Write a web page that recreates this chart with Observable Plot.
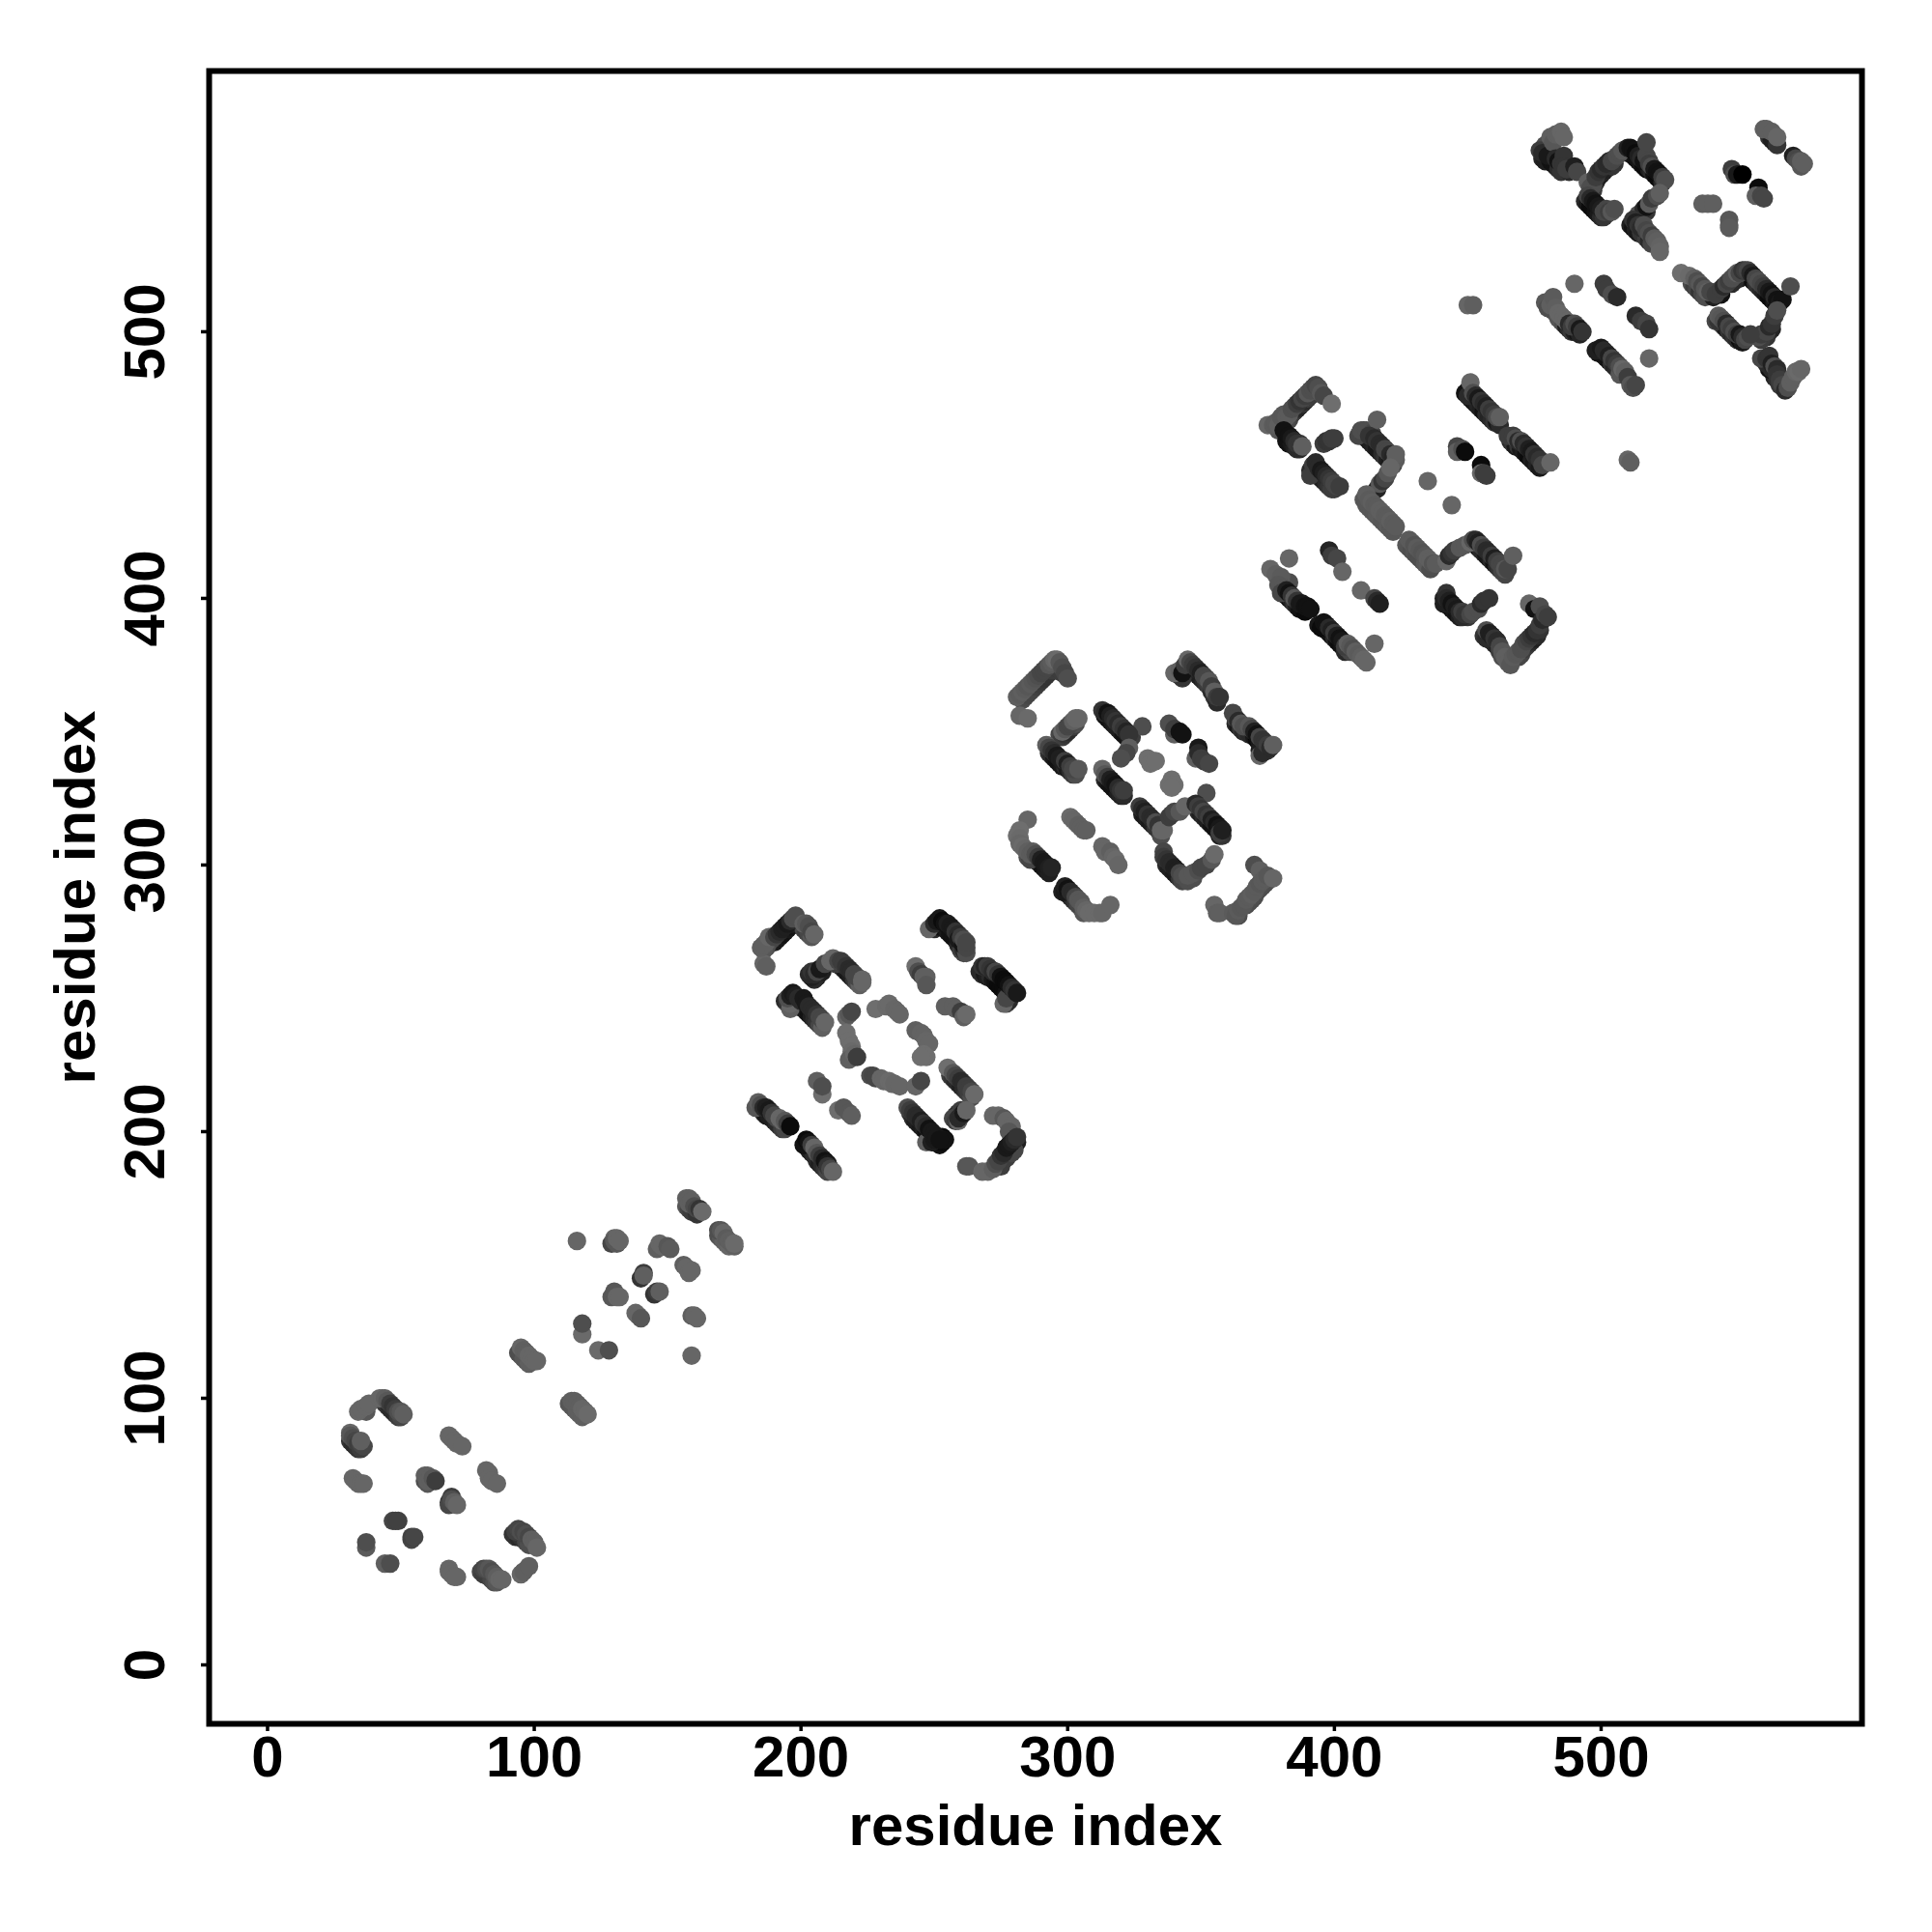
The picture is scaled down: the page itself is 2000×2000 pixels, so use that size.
<!DOCTYPE html>
<html>
<head>
<meta charset="utf-8">
<script src="https://cdn.jsdelivr.net/npm/d3@7"></script>
<script src="https://cdn.jsdelivr.net/npm/@observablehq/plot@0.6"></script>
<style>html,body{margin:0;padding:0;background:#fff}</style>
</head>
<body>
<div id="chart"></div>
<script>
// Each contact: [residue i, residue j, shade] with shade 0 (black) .. 110 (lightest gray)
const under1 = [[36,96,90],[37,95,80],[44,98,50],[45,97,40],[46,96,30],[47,95,30],[48,94,30],[49,93,50],[50,93,60],[31,84,40],[32,83,30],[33,82,30],[34,81,40],[35,81,50],[59,69,70],[60,68,80],[68,61,40],[68,60,60],[92,49,40],[93,48,40],[94,48,30],[95,48,40],[96,47,40],[97,46,60],[98,45,70],[80,35,60],[81,34,50],[82,34,50],[83,33,50],[84,32,60],[85,31,70],[86,31,80]];
const under2 = [[94,117,70],[95,116,70],[96,115,80],[97,114,80],[98,113,90],[113,98,80],[114,97,80],[115,96,80],[116,95,90],[117,94,90],[118,93,90],[157,172,80],[158,171,60],[159,170,50],[161,169,40],[169,161,70],[170,160,80],[171,159,90],[172,158,90],[173,157,100],[129,158,60],[131,158,80],[146,156,90],[140,145,40],[145,139,40],[129,138,80]];
const under3 = [[190,271,20],[191,272,15],[192,273,15],[193,274,10],[194,275,10],[195,276,15],[196,277,10],[197,278,20],[189,272,50],[188,271,60],[187,269,70],[186,268,80],[201,276,60],[202,275,50],[203,274,60],[204,273,80],
[206,258,20],[205,257,30],[204,258,20],[203,259,30],[208,260,20],[215,262,30],[216,261,20],[217,260,15],[218,259,15],[219,258,20],[220,257,40],[221,256,60],[222,255,90],[213,263,50],
[197,249,10],[198,248,10],[199,247,10],[200,247,20],[201,246,15],[202,245,15],[203,244,10],[204,243,20],[205,242,30],[206,241,40],[207,240,60],[208,239,90],[194,249,30],[195,248,40],[196,246,90],
[186,207,30],[187,206,15],[188,206,20],[189,205,20],[190,204,20],[191,203,30],[192,202,30],[193,201,50],[194,201,60],[183,209,80],[203,193,20],[204,192,20],[205,191,30],[206,189,30],[207,188,20],[208,187,30],[209,186,40],[210,185,60],[201,195,10],
[250,276,30],[251,277,10],[252,278,10],[253,277,5],[254,276,10],[255,275,15],[256,274,10],[257,273,10],[258,272,10],[259,270,30],[260,268,50],[261,267,60],[261,268,30],[262,267,70],
[267,260,30],[268,259,30],[269,259,15],[270,258,20],[271,258,30],[272,257,15],[273,256,10],[274,255,5],[275,254,5],[276,253,5],[277,252,10],[278,252,20],[279,251,25],[277,248,60],[278,249,30],
[241,207,40],[242,205,30],[243,204,20],[244,203,20],[245,202,15],[246,201,20],[247,200,10],[248,199,10],[249,198,10],[250,196,10],[248,197,20],[252,195,10],[253,196,5],[253,198,5],[254,197,10],
[256,221,50],[257,220,40],[258,219,30],[259,218,30],[260,217,20],[261,216,30],[262,215,40],[263,214,50],[264,213,70],[275,189,30],[276,190,20],[277,192,15],[278,193,10],[279,194,10],[280,195,15],[281,196,20],[274,187,70],[275,187,50],[277,190,50],[279,192,60],[280,193,60],[258,206,20],[259,207,30],[260,208,50],[257,205,60]];
const under4 = [[283,362,70],[284,363,65],[285,364,60],[286,365,60],[287,366,60],[288,367,55],[289,368,50],[290,369,45],[291,370,40],[292,371,40],[293,372,40],[294,373,50],[295,375,60],[296,374,40],[297,373,50],[298,372,50],
[293,342,40],[294,341,30],[295,340,15],[296,339,10],[297,338,10],[298,337,15],[299,337,30],[300,336,15],[301,335,30],[302,334,50],[303,334,70],[297,349,60],[298,348,50],[299,349,40],[300,350,30],[301,351,30],[302,352,50],[303,353,70],
[314,356,15],[315,355,10],[316,354,10],[317,353,15],[318,352,20],[319,351,20],[320,350,20],[321,349,10],[322,348,10],[323,347,15],[324,348,50],[314,332,30],[315,331,15],[316,330,10],[317,329,10],[318,328,10],[319,327,20],[320,326,25],[321,326,30],
[345,375,40],[346,374,30],[347,373,20],[348,372,20],[349,371,20],[350,370,20],[351,369,30],[352,368,40],[353,367,50],[354,365,30],[355,363,40],[356,361,30],[342,371,20],[343,370,40],
[363,353,30],[364,352,15],[365,351,40],[366,350,30],[367,350,40],[368,349,30],[369,349,30],[370,348,15],[371,347,5],[372,346,15],[373,345,20],[374,344,25],[375,343,40],[372,343,20],
[328,319,20],[329,318,15],[330,317,20],[331,316,15],[332,315,20],[333,314,40],[334,313,40],[335,311,70],[349,320,30],[350,319,20],[351,318,30],[352,317,20],[353,316,20],[354,315,10],[355,314,10],[356,313,10],[357,311,20],[358,311,40],
[288,302,40],[289,301,20],[290,300,10],[291,299,10],[292,298,15],[293,297,20],[285,303,70],[286,302,60],[287,303,60],[300,289,10],[301,288,20],[302,287,30],[303,286,40],[304,285,60],[305,284,60],[306,282,80],[298,290,20],[299,290,15],
[337,300,30],[338,299,20],[339,298,20],[340,297,15],[341,296,15],[342,295,40],[343,294,60],[345,294,70],[347,295,70],[367,285,70],[368,286,70],[369,287,70],[370,288,70],[371,290,70],[372,291,70],[373,292,70],[374,293,70],[375,294,70],[364,281,70]];
const under5 = [[383,467,60],[384,469,55],[385,470,50],[386,471,30],[387,472,25],[388,473,40],[389,474,30],[390,475,50],[391,476,50],[392,477,50],[381,466,70],[382,466,65],[379,463,80],[382,459,10],[383,458,10],[384,458,15],[385,457,20],[386,456,30],[387,456,30],
[391,448,30],[392,448,20],[393,447,15],[394,446,10],[395,445,10],[396,444,20],[397,443,30],[398,442,40],[399,441,50],[400,441,50],[391,446,50],
[411,461,40],[412,460,30],[413,459,15],[414,458,20],[415,457,25],[416,456,15],[417,455,15],[418,454,30],[419,453,40],[420,452,20],[421,451,15],[422,450,60],[409,461,60],[411,463,50],
[411,437,80],[412,435,80],[413,434,80],[414,433,80],[415,432,80],[416,431,85],[417,430,85],[418,429,80],[419,428,80],[420,427,85],[421,426,80],[422,425,80],[427,420,80],[428,419,75],[429,418,70],[430,417,75],[431,416,70],[432,415,70],[433,414,70],[434,413,80],[435,412,85],[436,411,70],
[453,420,15],[454,419,10],[455,418,30],[456,417,30],[457,416,15],[458,415,15],[459,414,30],[460,413,10],[461,412,30],[462,411,40],[463,410,60],[464,409,60],
[451,475,15],[452,474,10],[453,473,15],[454,472,25],[455,471,20],[456,470,10],[457,469,30],[458,468,25],[459,467,30],[460,466,40],[461,466,15],[462,465,30],[450,478,60],
[466,459,30],[467,458,40],[468,457,15],[469,457,40],[470,456,15],[471,455,20],[472,454,10],[473,453,5],[474,452,20],[475,451,15],[476,450,25],[465,461,50],
[380,406,40],[381,402,30],[382,401,5],[383,400,5],[384,399,20],[385,398,40],[386,397,20],[387,396,10],[388,396,10],[389,395,5],[381,405,60],[383,406,70],
[397,388,5],[398,387,15],[399,386,10],[400,385,30],[401,384,10],[402,383,5],[403,382,10],[404,380,30],[405,381,60],[406,380,60],[394,390,15],[395,389,5],
[443,397,15],[444,396,5],[445,395,15],[446,394,10],[447,393,20],[441,400,25],[441,398,20],[450,393,40],[448,393,30],[458,385,15],[459,384,15],[460,383,30],[461,382,25],[462,380,50],[463,378,70],[456,386,40],[457,385,30],
[469,378,60],[470,379,60],[471,381,50],[472,382,50],[473,383,40],[474,384,30],[475,385,20],[476,386,30],[477,388,40]];
const under6 = [[478,565,25],[479,564,20],[481,564,10],[482,563,10],[483,562,10],[484,561,30],[485,560,40],[488,560,30],[479,570,70],[480,569,60],
[496,552,40],[497,553,50],[498,556,30],[499,558,25],[500,559,20],[501,560,25],[502,561,20],[503,562,20],[504,562,40],[505,563,40],
[511,567,5],[512,566,5],[513,565,5],[514,564,10],[515,563,15],[516,562,5],[517,561,5],[518,561,20],[519,560,30],[520,559,10],[521,558,5],[522,557,5],[523,556,30],[510,567,10],
[494,549,30],[495,548,15],[496,547,5],[497,546,5],[498,545,10],[499,544,15],[500,543,30],[501,543,40],[502,544,40],
[511,540,20],[512,539,10],[513,538,20],[514,537,15],[515,537,40],[516,536,40],[517,535,50],[518,534,30],[519,533,60],[516,545,20],[515,544,10],[517,545,40],
[534,518,70],[535,517,50],[536,516,60],[537,515,40],[538,514,60],[539,513,70],[542,513,20],[544,515,20],[545,514,10],
[551,520,40],[552,520,20],[553,521,15],[554,521,20],[555,521,30],[556,520,15],[557,519,5],[558,518,30],[559,517,40],[560,516,30],[561,515,25],[562,514,15],[563,513,5],[564,512,5],[565,511,15],[566,510,5],[550,519,30],[549,518,30],
[545,503,50],[546,502,40],[547,501,15],[548,500,40],[549,499,30],[550,498,40],[551,497,30],[552,497,5],[553,496,15],[543,504,60],[544,504,40],[563,500,20],[564,501,25],[561,498,30],[562,498,40],[560,497,50],
[565,485,15],[565,483,25],[566,482,35],[567,480,45],[563,486,10],[564,486,30],[562,488,30],
[482,508,60],[483,507,70],[484,505,80],[485,504,80],[486,503,70],[487,502,20],[488,501,30],[489,500,45],[490,500,20],[491,500,10],[492,499,25],[480,511,60],
[501,491,15],[502,490,15],[503,489,10],[504,488,40],[505,487,25],[506,486,30],[507,485,50],[499,492,10],[498,493,20]];

const block1 = [[34,95,100],[35,96,100],[37,97,100],[38,98,100],[42,100,100],[43,100,100],[44,100,90],[45,99,80],[46,98,50],[47,97,40],[48,96,50],[49,95,70],[50,95,80],[51,94,90],
[31,87,100],[31,86,80],[32,85,70],[33,84,60],[34,83,50],[35,83,60],[36,82,60],[35,84,90],
[32,70,100],[33,69,100],[34,68,100],[35,68,100],[36,68,100],[37,44,85],[37,46,70],[47,54,60],[48,54,55],[49,54,55],[54,47,60],[54,48,55],[55,48,60],[44,38,90],[46,38,70],
[68,86,100],[69,85,100],[70,84,100],[71,83,100],[73,82,100],[59,71,90],[60,71,90],[60,69,90],[61,70,90],[62,70,80],[63,69,50],[69,63,50],[69,62,70],[70,61,90],[71,60,100],
[82,73,100],[83,72,100],[83,70,100],[84,69,100],[86,68,100],[68,36,100],[68,35,100],[69,34,100],[70,33,100],[71,33,100],
[81,36,60],[82,36,70],[83,36,80],[84,35,70],[85,34,80],[86,33,90],[87,32,100],[88,32,100],[95,34,100],[96,35,90],[98,37,90],
[93,50,55],[94,51,60],[95,50,70],[96,50,60],[97,49,70],[98,48,60],[99,47,90],[100,46,90],[101,44,100]];

const block2 = [[95,119,100],[96,118,90],[97,117,90],[98,116,100],[99,115,100],[100,114,100],[101,114,100],
[114,99,90],[115,99,90],[116,98,90],[117,97,90],[118,96,100],[119,95,100],[120,94,105],[116,159,100],[130,160,100],[130,159,80],[131,160,100],[132,159,100],
[147,158,100],[148,157,100],[150,157,80],[151,156,85],[156,150,90],[157,149,100],[158,147,100],[159,148,100],[141,147,50],[141,146,90],[146,140,50],[147,140,90],
[130,140,80],[131,138,100],[132,138,100],[138,132,100],[139,131,100],[140,130,80],[159,131,90],[160,131,100],[161,130,100],[159,116,100],
[118,124,105],[118,128,70],[124,118,105],[128,118,70],
[157,175,90],[158,175,90],[158,173,90],[159,174,90],[160,172,70],[161,171,60],[162,171,40],[163,170,105],
[169,163,70],[170,163,80],[171,162,100],[172,160,85],[173,159,90],[174,158,90],[175,157,90],[175,158,105]];

const block3 = [[186,263,100],[187,262,90],[185,269,90],[186,270,90],[187,271,90],[188,273,100],[190,273,60],[191,274,40],[192,275,30],[193,276,20],[194,277,20],[195,278,15],[196,279,30],[197,280,70],[198,281,70],[201,278,90],[202,278,80],[203,277,70],[204,275,60],[205,274,100],
[204,260,40],[205,259,30],[206,260,60],[207,261,15],[209,263,60],[211,264,100],[212,265,100],[214,264,60],[215,264,50],[216,263,50],[217,262,40],[218,261,30],[219,260,30],[220,259,60],[221,258,60],[223,257,100],[223,256,100],
[196,248,100],[195,250,70],[196,251,20],[197,252,15],[198,251,20],[199,250,30],[200,249,30],[201,250,15],[202,248,15],[203,247,30],[204,246,30],[205,245,30],[206,244,40],[207,243,60],[208,242,60],[209,241,100],
[217,243,100],[218,244,80],[219,245,60],[228,246,110],[232,247,105],[233,248,105],[235,246,100],[236,245,100],[237,244,100],
[217,237,110],[218,234,110],[219,232,110],[219,230,105],[218,227,90],[220,229,100],[221,228,50],
[243,238,90],[245,237,95],[246,236,95],[247,234,100],[248,233,100],[246,229,110],[247,228,110],[245,228,110],
[226,221,70],[227,221,60],[228,220,60],[230,220,100],[231,219,100],[233,219,105],[234,218,105],[235,218,100],[237,217,100],[243,217,100],[245,219,60],
[206,219,90],[208,214,110],[208,217,70],[214,208,110],[216,209,80],[218,207,80],[219,206,90],
[184,211,90],[185,210,70],[186,209,30],[187,209,20],[188,208,15],[189,207,40],[190,206,60],[191,205,60],[192,205,100],[193,204,100],[194,204,80],[195,203,50],[196,202,5],
[202,197,5],[203,196,10],[204,195,50],[205,194,100],[206,192,80],[207,191,50],[208,190,30],[209,189,10],[210,188,15],[210,187,40],[211,186,60],[212,185,100],
[248,276,100],[250,278,30],[251,279,15],[252,280,15],[253,279,5],[254,278,10],[255,278,20],[256,277,15],[257,276,15],[258,275,40],[259,274,30],[259,272,15],[260,273,50],[261,270,10],[261,272,70],[262,269,60],[262,271,60],
[276,248,100],[277,250,60],[268,262,40],[269,262,25],[270,262,50],[271,261,40],[272,260,30],[273,260,60],[274,259,40],[275,258,10],[276,257,5],[277,256,5],[278,255,10],[279,254,30],[280,253,40],[281,252,15],
[243,262,110],[244,260,70],[245,259,50],[246,258,90],[247,258,90],[247,255,80],[254,247,90],[257,247,90],[258,246,90],[260,245,50],[261,243,90],[262,244,105],
[258,204,50],[259,204,100],[259,205,30],[260,206,30],[261,207,15],[262,208,100],
[255,224,110],[257,222,80],[258,221,60],[259,220,50],[260,219,30],[261,218,30],[262,217,50],[263,216,50],[264,215,60],[265,214,105],
[247,196,90],[240,209,70],[241,208,50],[242,207,40],[243,206,30],[244,205,30],[245,204,20],[246,203,40],[247,202,30],[248,201,10],[249,200,15],[249,196,20],[250,199,15],[250,197,15],[251,198,15],[252,197,10],
[262,187,80],[263,187,80],[268,185,100],[270,185,100],[272,186,90],[272,206,100],[274,206,100],[276,205,80],[277,204,100],[279,202,100],[278,200,80],[273,188,70],[274,189,60],[275,191,40],[276,192,30],[277,194,15],[278,195,15],[279,196,20],[280,197,30],[281,198,40]];

const block4 = [[281,363,90],[282,364,85],[283,365,90],[284,366,85],[285,367,80],[286,368,85],[287,369,80],[288,370,75],[289,371,70],[290,372,60],[291,373,60],[292,374,60],[293,375,80],[294,376,85],[295,377,100],[296,377,105],[297,376,80],[298,374,70],[299,372,60],[300,370,70],[282,356,100],[285,355,105],
[298,350,100],[299,351,80],[300,352,60],[301,353,60],[302,354,90],[303,355,100],[304,355,100],
[292,345,90],[293,344,60],[294,343,40],[295,342,30],[296,341,15],[297,340,20],[298,339,20],[299,339,50],[300,338,20],[301,337,50],[302,336,60],[304,336,80],
[328,352,70],[313,358,40],[314,357,30],[315,357,10],[316,356,20],[317,355,30],[318,354,40],[319,353,30],[320,352,50],[321,351,40],[322,350,25],[323,349,40],
[323,344,90],[322,342,60],[320,340,70],[313,336,100],[314,334,80],[315,333,50],[316,332,20],[317,331,15],[318,330,10],[319,329,30],[320,328,40],[321,328,50],
[330,340,110],[331,338,110],[333,339,110],[339,332,110],[338,330,110],[340,330,110],[339,329,110],
[338,353,70],[340,349,90],[340,351,50],[342,350,10],[343,349,10],[348,340,90],[349,344,15],[349,342,30],[350,340,50],[351,339,50],[353,338,60],
[340,372,100],[342,373,90],[343,372,10],[344,375,50],[345,377,100],[346,376,60],[347,375,50],[348,374,40],[349,373,30],[350,372,20],[351,371,60],[352,370,60],[353,369,80],[354,367,50],[355,365,90],[356,363,50],[357,363,40],
[372,341,100],[373,342,30],[362,357,60],[363,355,60],[364,354,30],[365,353,80],[366,352,70],[368,352,80],[369,351,60],[370,350,20],[371,349,10],[372,348,60],[373,347,40],[374,346,40],[375,345,50],[376,344,30],[377,345,90],
[352,327,70],[327,322,50],[328,321,30],[329,320,20],[330,319,40],[331,318,30],[332,317,30],[333,316,70],[334,315,40],[335,313,100],[336,313,100],
[338,318,50],[339,319,50],[340,320,60],[342,320,80],[344,322,100],
[348,323,30],[349,322,50],[350,321,40],[351,320,60],[352,319,40],[353,318,50],[354,317,20],[355,316,30],[356,315,10],[357,314,15],[357,312,50],[358,313,20],
[285,317,100],[282,313,110],[281,311,110],[282,310,105],[282,308,100],[283,307,105],[284,306,100],[285,305,90],[286,304,85],[287,305,85],[288,304,70],[289,303,50],[290,302,20],[291,301,15],[292,300,15],[293,299,20],[294,299,25],
[299,292,20],[300,291,10],[301,290,30],[302,289,30],[303,288,60],[304,287,80],[305,286,80],[306,284,90],[307,283,100],[308,282,105],[310,282,105],[312,282,105],[313,282,100],[316,285,100],
[301,318,105],[302,317,100],[303,316,100],[304,315,90],[305,314,90],[306,313,90],[307,313,90],[313,307,100],[314,305,100],[316,305,90],[317,303,100],[318,302,105],[319,300,100],
[336,305,60],[336,303,50],[337,302,40],[338,301,30],[339,300,30],[340,299,20],[341,298,20],[342,297,60],[343,296,70],[345,296,80],[347,297,80],[349,298,70],[350,299,60],[352,300,60],[354,302,80],[355,304,105],
[355,285,100],[356,282,90],[357,282,90],[362,282,85],[363,281,80],[364,283,85],[365,284,80],[366,285,80],[367,287,85],[368,288,85],[369,289,90],[370,290,85],[370,300,70],[371,292,85],[372,293,80],[372,298,90],[373,294,85],[374,295,85],[375,296,80],[377,295,100]];

const block5 = [[375,465,100],[377,465,85],[378,466,85],[379,465,90],[380,468,80],[381,469,80],[382,468,85],[383,469,85],[384,471,70],[385,472,70],[386,473,50],[387,474,40],[388,475,60],[389,476,50],[390,477,80],[391,478,70],[392,479,70],[393,480,60],[394,479,70],[395,477,80],[396,476,60],[399,473,110],
[381,463,10],[383,461,10],[384,460,15],[385,459,30],[386,458,40],[387,458,40],[388,457,90],[396,458,50],[397,459,40],[398,459,40],[399,460,50],[400,460,50],
[392,450,50],[393,451,30],[394,449,30],[395,448,15],[396,447,20],[397,446,30],[398,445,40],[399,444,50],[400,443,60],[401,442,60],[402,442,50],
[410,463,70],[412,463,70],[414,462,60],[416,467,90],[413,461,40],[415,460,30],[416,459,40],[417,458,30],[418,457,30],[419,456,60],[420,455,60],[421,454,30],[422,453,25],[423,452,85],[423,454,90],
[416,441,25],[417,443,80],[418,444,40],[419,445,60],[420,447,80],[421,449,100],
[412,439,90],[413,437,85],[414,436,90],[415,435,85],[416,434,85],[417,433,90],[418,432,90],[419,431,85],[420,430,85],[421,429,90],[422,428,85],[423,427,85],
[428,422,85],[429,421,85],[430,420,75],[431,419,85],[432,418,80],[433,417,75],[434,416,80],[435,415,90],[436,414,90],[437,413,75],[438,413,85],
[442,414,100],[443,416,30],[444,417,40],[445,418,50],[447,419,80],[449,420,80],[451,421,100],
[452,422,70],[453,422,30],[454,421,20],[455,420,70],[456,419,50],[457,418,30],[458,417,30],[459,416,50],[460,415,20],[461,414,50],[462,413,60],[463,412,60],[464,411,80],[465,411,60],[467,416,90],
[435,444,100],[444,435,100],[450,510,100],[452,510,90],[510,452,100],[511,451,90],
[449,477,10],[450,476,30],[451,481,100],[452,477,70],[453,476,30],[454,475,15],[455,474,40],[456,473,30],[457,472,20],[458,471,50],[459,470,40],[460,469,50],[461,468,70],[462,468,90],
[467,461,50],[468,460,70],[469,459,30],[470,459,70],[471,458,30],[472,457,40],[473,456,20],[474,455,15],[475,454,40],[476,453,30],[477,449,15],[477,452,40],[478,450,60],[481,451,100],
[446,457,60],[446,455,90],[448,456,70],[449,455,5],[455,450,5],[455,447,100],[456,447,50],[457,446,50],
[376,411,100],[383,415,100],[378,409,90],[380,408,85],[379,405,80],[381,404,80],[380,402,60],
[382,403,20],[383,402,10],[384,401,40],[385,400,80],[386,399,40],[387,398,15],[388,398,15],[389,397,10],[390,397,10],[391,396,10],
[396,391,10],[397,390,10],[398,389,30],[399,388,20],[400,387,50],[401,386,20],[402,385,10],[403,384,15],[404,382,50],[405,383,90],[406,382,80],[407,381,70],[408,380,90],[409,379,85],[410,378,90],[411,377,100],[412,376,100],[415,383,100],
[398,418,25],[399,416,50],[401,415,60],[403,410,100],[410,403,100],[415,400,60],[416,399,30],[417,398,20],
[442,402,40],[442,400,30],[443,399,20],[444,398,10],[445,397,20],[446,396,15],[447,395,30],[448,395,50],[449,394,40],[451,394,60],[452,395,70],[454,396,70],[455,398,30],[456,399,40],[458,400,40],
[457,388,70],[458,387,20],[459,386,20],[460,385,40],[461,384,30],[462,382,60],[463,380,80],[464,378,90],[465,376,90],[466,375,80],
[467,378,85],[468,379,80],[469,380,80],[470,381,70],[471,383,70],[472,384,60],[473,385,50],[473,398,100],[474,386,40],[475,387,30],[475,396,10],[476,388,40],[477,390,50],[477,397,70],[478,392,30],[479,394,60],[480,393,50]];

const block6 = [[477,568,50],[478,567,30],[480,566,15],[481,573,90],[482,571,80],[483,574,90],[484,574,90],[485,575,100],[486,573,100],[483,565,30],[484,564,10],[485,563,40],[486,566,40],[486,562,40],[487,561,50],[490,562,20],[491,560,60],
[495,556,90],[496,554,70],[497,555,70],[498,558,50],[499,560,40],[500,561,30],[501,562,40],[502,563,30],[503,564,30],[504,564,60],[505,565,60],[506,566,70],[507,567,70],[508,568,80],[510,569,20],[511,569,10],[512,568,10],[513,567,5],[514,566,20],[515,565,30],[516,564,10],[517,566,60],[517,571,60],[518,564,60],[518,563,50],[519,562,70],[520,561,15],[521,560,10],[522,559,10],[523,558,50],[524,557,70],
[495,551,60],[496,550,30],[497,549,15],[498,548,10],[499,547,15],[500,546,20],[501,545,60],[502,546,60],[503,545,50],[504,545,80],[505,546,70],
[514,544,70],[516,546,30],[517,547,10],[518,548,85],[519,550,50],[521,551,70],[522,552,90],
[512,542,40],[513,541,20],[514,540,40],[515,539,30],[516,540,70],[517,538,60],[518,537,70],[519,536,50],[520,535,85],[521,534,90],[522,532,95],[522,530,100],
[563,573,40],[564,572,20],[565,571,20],[566,570,40],[561,576,90],[562,576,90],[564,575,90],[566,573,100],
[572,566,20],[573,565,60],[574,564,70],[575,562,80],[575,564,90],[576,563,90],
[549,561,50],[550,559,70],[551,559,15],[553,559,0],[559,554,5],[558,551,90],[560,551,60],[561,550,60],[538,548,90],[540,548,90],[542,548,90],[548,542,80],[548,540,80],[548,539,85],
[530,522,110],[533,521,105],[535,520,90],[536,519,70],[537,518,80],[538,517,60],[539,516,80],[540,515,90],[541,515,60],[543,514,50],[545,516,50],[546,517,30],[547,518,60],[548,519,50],[549,520,70],[550,521,70],[551,522,90],[552,522,60],[553,523,40],[554,523,50],[555,523,60],[556,522,30],[557,521,15],[558,520,60],[559,519,70],[560,518,60],[561,517,50],[562,516,30],[563,515,15],[564,514,10],[565,513,30],[566,512,10],[567,511,15],[568,512,10],[571,517,70],
[559,498,70],[560,499,50],[562,500,60],[563,502,30],[564,503,40],[565,506,50],[566,508,70],
[544,506,85],[545,505,80],[546,504,70],[547,503,30],[548,502,60],[549,501,50],[550,500,70],[551,499,50],[552,499,15],[553,498,30],[554,497,60],[555,498,70],[556,499,50],
[560,490,60],[562,490,40],[563,491,40],[564,488,20],[565,487,70],[566,486,30],[566,484,40],[567,482,50],[568,480,60],[569,478,30],[570,479,70],[571,481,90],[572,483,90],[573,485,100],[574,485,105],[575,486,100],
[479,511,80],[480,509,70],[481,510,90],[482,513,85],[483,509,90],[484,507,100],[485,506,100],[486,505,100],[487,504,100],[488,503,30],[489,502,50],[490,503,70],[491,502,50],[492,501,15],[493,500,40],[490,518,100],
[501,518,50],[502,516,50],[504,514,70],[506,513,30],[513,506,30],[515,504,50],[517,503,60],[518,501,40],[518,490,100],
[500,494,15],[501,493,30],[502,492,30],[503,491,20],[504,490,60],[505,489,40],[506,488,50],[507,484,80],[507,487,70],[508,486,100],[509,485,90],[510,483,50],[511,480,80],[512,479,70],[513,480,60]];

const contacts = [under1, under2, under3, under4, under5, under6, block1, block2, block3, block4, block5, block6].flat();
const xTicks = [0, 100, 200, 300, 400, 500];
const yTicks = [0, 100, 200, 300, 400, 500];
const axisLabel = "residue index";

const chart = Plot.plot({
  width: 2000,
  height: 2000,
  marginLeft: 216,
  marginRight: 73,
  marginTop: 73,
  marginBottom: 216,
  style: {fontFamily: "'Liberation Sans', Arial, sans-serif", fontWeight: "bold", background: "#fff", color: "#000"},
  x: {domain: [-21.9, 597.8]},
  y: {domain: [-22.1, 597.8]},
  color: {type: "pow", exponent: 0.75, domain: [0, 110], range: ["#000000", "#6e6e6e"]},
  marks: [
    Plot.dot(contacts, {x: d => d[0], y: d => d[1], fill: d => d[2], r: 9.6, stroke: "none"}),
    Plot.frame({stroke: "#000", strokeWidth: 6}),
    Plot.axisX({ticks: xTicks, tickSize: 8, tickPadding: 4, strokeWidth: 3.5, fontSize: 60, label: axisLabel, labelAnchor: "center", labelArrow: "none", labelOffset: 125}),
    Plot.axisY({ticks: yTicks, tickSize: 8, tickPadding: 39, strokeWidth: 3.5, fontSize: 60, tickRotate: -90, label: axisLabel, labelAnchor: "center", labelArrow: "none", labelOffset: 161})
  ]
});
document.getElementById("chart").appendChild(chart);
</script>
</body>
</html>
